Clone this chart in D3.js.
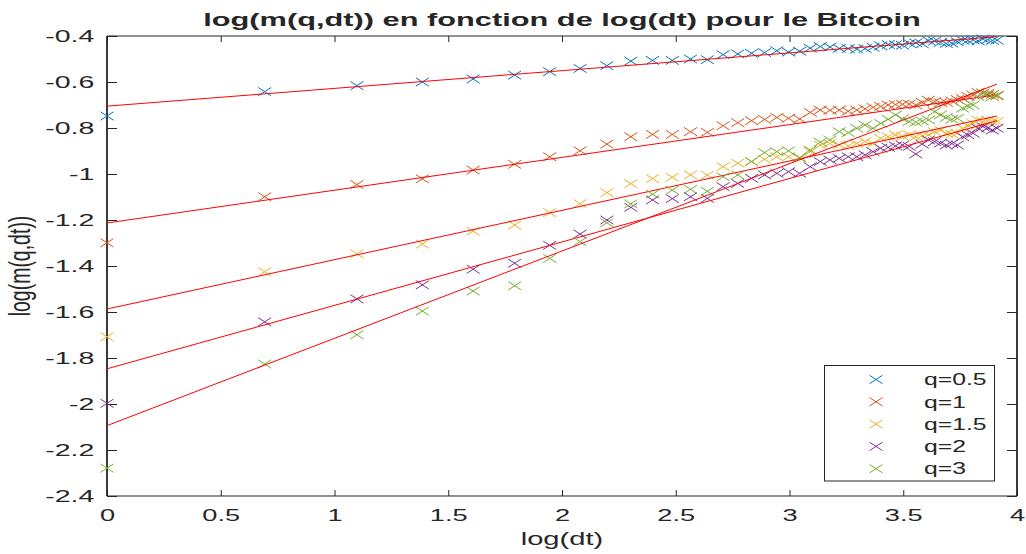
<!DOCTYPE html>
<html>
<head>
<meta charset="utf-8">
<script src="https://cdn.jsdelivr.net/npm/d3@7"></script>
<style>
  html, body { margin: 0; padding: 0; background: #fff; }
  text { font-family: "Liberation Sans", Arial, Helvetica, sans-serif; fill: #262626; }
</style>
</head>
<body>
<script>
// dt = 1..50, plotted against log(dt)
const dt = [1, 2, 3, 4, 5, 6, 7, 8, 9, 10, 11, 12, 13, 14, 15, 16, 17, 18, 19, 20,
  21, 22, 23, 24, 25, 26, 27, 28, 29, 30, 31, 32, 33, 34, 35, 36, 37, 38, 39, 40,
  41, 42, 43, 44, 45, 46, 47, 48, 49, 50];

const seriesNames = ['q=0.5', 'q=1', 'q=1.5', 'q=2', 'q=3'];
const seriesColors = ['#0072BD', '#D95319', '#EDB120', '#7E2F8E', '#77AC30'];

const q05 = [-0.748, -0.642, -0.616, -0.600, -0.587, -0.570, -0.555, -0.541, -0.529, -0.509,
  -0.506, -0.506, -0.500, -0.503, -0.481, -0.478, -0.475, -0.472, -0.464, -0.470,
  -0.466, -0.453, -0.446, -0.448, -0.454, -0.455, -0.457, -0.455, -0.449, -0.443,
  -0.437, -0.438, -0.440, -0.432, -0.430, -0.434, -0.420, -0.422, -0.428, -0.433,
  -0.431, -0.425, -0.418, -0.420, -0.417, -0.421, -0.413, -0.416, -0.419, -0.418];

const q1 = [-1.299, -1.099, -1.046, -1.021, -0.983, -0.958, -0.925, -0.899, -0.870, -0.838,
  -0.828, -0.828, -0.816, -0.819, -0.790, -0.777, -0.768, -0.763, -0.754, -0.758,
  -0.761, -0.732, -0.722, -0.723, -0.722, -0.727, -0.722, -0.717, -0.710, -0.706,
  -0.700, -0.698, -0.697, -0.696, -0.700, -0.688, -0.679, -0.685, -0.690, -0.688,
  -0.682, -0.676, -0.672, -0.662, -0.657, -0.645, -0.648, -0.655, -0.654, -0.660];

const q15 = [-1.708, -1.425, -1.347, -1.305, -1.248, -1.222, -1.168, -1.129, -1.081, -1.042,
  -1.020, -1.014, -1.004, -1.005, -0.968, -0.953, -0.946, -0.936, -0.925, -0.925,
  -0.932, -0.903, -0.874, -0.867, -0.874, -0.878, -0.867, -0.859, -0.867, -0.845,
  -0.838, -0.830, -0.836, -0.830, -0.838, -0.834, -0.830, -0.816, -0.809, -0.823,
  -0.826, -0.823, -0.801, -0.790, -0.780, -0.765, -0.772, -0.768, -0.772, -0.772];

const q2 = [-1.997, -1.643, -1.543, -1.482, -1.414, -1.388, -1.310, -1.261, -1.200, -1.145,
  -1.113, -1.107, -1.099, -1.106, -1.055, -1.041, -1.019, -1.004, -0.997, -0.990,
  -0.997, -0.968, -0.946, -0.939, -0.932, -0.925, -0.925, -0.917, -0.903, -0.888,
  -0.884, -0.878, -0.874, -0.880, -0.913, -0.870, -0.852, -0.859, -0.866, -0.874,
  -0.868, -0.874, -0.838, -0.830, -0.823, -0.801, -0.794, -0.800, -0.809, -0.801];

const q3 = [-2.279, -1.826, -1.699, -1.596, -1.509, -1.486, -1.367, -1.294, -1.212, -1.130,
  -1.088, -1.070, -1.067, -1.075, -1.012, -1.004, -0.946, -0.907, -0.903, -0.899,
  -0.928, -0.896, -0.862, -0.852, -0.816, -0.820, -0.801, -0.787, -0.801, -0.780,
  -0.762, -0.743, -0.760, -0.772, -0.775, -0.770, -0.765, -0.729, -0.743, -0.755,
  -0.762, -0.758, -0.714, -0.705, -0.700, -0.664, -0.649, -0.649, -0.664, -0.657];

// linear fits (red lines)
const fitIntercepts = [-0.705, -1.213, -1.587, -1.847, -2.094];
const fitSlopes = [0.0772, 0.1426, 0.2145, 0.2758, 0.3796];

const xTicks = [0, 0.5, 1, 1.5, 2, 2.5, 3, 3.5, 4];
const yTicks = [-2.4, -2.2, -2, -1.8, -1.6, -1.4, -1.2, -1, -0.8, -0.6, -0.4];

const width = 1026;
const height = 554;
const margin = { top: 36, right: 9, bottom: 58, left: 107 };
const SX = 1.62; // the figure is stretched horizontally

const allSeries = [q05, q1, q15, q2, q3];

const svg = d3.select('body').append('svg')
  .attr('width', width)
  .attr('height', height);

const x = d3.scaleLinear().domain([0, 4]).range([margin.left, width - margin.right]);
const y = d3.scaleLinear().domain([-2.4, -0.4]).range([height - margin.bottom, margin.top]);

const fmt = d => String(d);

// axes, MATLAB box style with inward ticks
svg.append('g')
  .attr('transform', `translate(0,${y(-2.4)})`)
  .call(d3.axisBottom(x).tickValues(xTicks).tickFormat(fmt).tickSizeInner(-6).tickSizeOuter(0).tickPadding(13))
  .call(g => g.select('.domain').remove())
  .call(g => g.selectAll('line').attr('stroke', '#262626'))
  .call(g => g.selectAll('text').attr('font-size', 16.8).attr('fill', '#262626')
    .attr('transform', `scale(${SX},1)`));

svg.append('g')
  .attr('transform', `translate(0,${y(-0.4)})`)
  .call(d3.axisTop(x).tickValues(xTicks).tickFormat('').tickSizeInner(-6).tickSizeOuter(0))
  .call(g => g.select('.domain').remove())
  .call(g => g.selectAll('line').attr('stroke', '#262626'));

svg.append('g')
  .attr('transform', `translate(${x(0)},0)`)
  .call(d3.axisLeft(y).tickValues(yTicks).tickFormat(fmt).tickSizeInner(-10).tickSizeOuter(0).tickPadding(0))
  .call(g => g.select('.domain').remove())
  .call(g => g.selectAll('line').attr('stroke', '#262626').attr('stroke-width', 1))
  .call(g => g.selectAll('text').attr('font-size', 16.8).attr('fill', '#262626')
    .attr('x', -12 / SX).attr('dy', '0.35em')
    .attr('transform', `scale(${SX + 0.08},1)`));

svg.append('g')
  .attr('transform', `translate(${x(4)},0)`)
  .call(d3.axisRight(y).tickValues(yTicks).tickFormat('').tickSizeInner(-10).tickSizeOuter(0))
  .call(g => g.select('.domain').remove())
  .call(g => g.selectAll('line').attr('stroke', '#262626'));

// box
svg.append('line').attr('x1', x(0)).attr('x2', x(4)).attr('y1', y(-2.4)).attr('y2', y(-2.4))
  .attr('stroke', '#262626').attr('stroke-width', 1.2);
svg.append('line').attr('x1', x(0)).attr('x2', x(4)).attr('y1', y(-0.4)).attr('y2', y(-0.4))
  .attr('stroke', '#262626').attr('stroke-width', 1.2);
svg.append('line').attr('x1', x(0)).attr('x2', x(0)).attr('y1', y(-2.4)).attr('y2', y(-0.4))
  .attr('stroke', '#262626').attr('stroke-width', 1.8);
svg.append('line').attr('x1', x(4)).attr('x2', x(4)).attr('y1', y(-2.4)).attr('y2', y(-0.4))
  .attr('stroke', '#262626').attr('stroke-width', 1.8);

// 'x' marker path
const mw = 6.5, mh = 4.2;
const cross = `M${-mw},${-mh}L${mw},${mh}M${-mw},${mh}L${mw},${-mh}`;

const plot = svg.append('g');
const xMax = Math.log(d3.max(dt));

allSeries.forEach((vals, i) => {
  plot.append('g')
    .selectAll('path')
    .data(vals)
    .enter()
    .append('path')
    .attr('d', cross)
    .attr('transform', (d, j) => `translate(${x(Math.log(dt[j]))},${y(d)})`)
    .attr('fill', 'none')
    .attr('stroke', seriesColors[i])
    .attr('stroke-width', 1);

  plot.append('line')
    .attr('x1', x(0))
    .attr('y1', y(fitIntercepts[i]))
    .attr('x2', x(xMax))
    .attr('y2', y(fitIntercepts[i] + fitSlopes[i] * xMax))
    .attr('stroke', '#FF0000')
    .attr('stroke-width', 1);
});

// legend
const legend = svg.append('g');
legend.append('rect')
  .attr('x', 824.5).attr('y', 365.5)
  .attr('width', 170).attr('height', 115.5)
  .attr('fill', '#fff')
  .attr('stroke', '#262626')
  .attr('stroke-width', 1);

seriesNames.forEach((name, i) => {
  const ly = 379.5 + i * 22.3;
  legend.append('path')
    .attr('d', cross)
    .attr('transform', `translate(876,${ly})`)
    .attr('fill', 'none')
    .attr('stroke', seriesColors[i])
    .attr('stroke-width', 1);
  legend.append('text')
    .attr('transform', `translate(924,${ly}) scale(1.5,1)`)
    .attr('dy', '0.35em')
    .attr('font-size', 16.5)
    .text(name);
});

// title and axis labels
svg.append('text')
  .attr('transform', `translate(${(x(0) + x(4)) / 2},26) scale(${SX},1)`)
  .attr('text-anchor', 'middle')
  .attr('font-size', 19)
  .attr('font-weight', 'bold')
  .attr('fill', '#000')
  .text('log(m(q,dt)) en fonction de log(dt) pour le Bitcoin');

svg.append('text')
  .attr('transform', `translate(${(x(0) + x(4)) / 2},545) scale(${SX},1)`)
  .attr('text-anchor', 'middle')
  .attr('font-size', 18)
  .text('log(dt)');

svg.append('text')
  .attr('transform', `translate(30,${(y(-0.4) + y(-2.4)) / 2}) scale(1.5,1) rotate(-90)`)
  .attr('text-anchor', 'middle')
  .attr('font-size', 19.5)
  .text('log(m(q,dt))');
</script>
</body>
</html>
